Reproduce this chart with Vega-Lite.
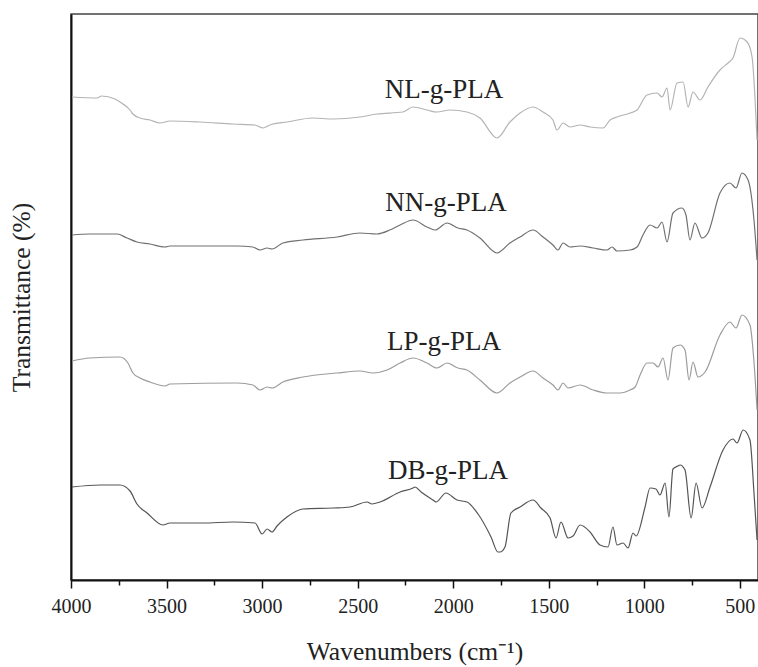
{
  "$schema": "https://vega.github.io/schema/vega-lite/v6.json",
  "width": 687,
  "height": 566,
  "autosize": {"type": "none"},
  "padding": {"left": 71, "top": 14, "right": 0, "bottom": 87},
  "background": "white",
  "config": {
    "view": {"stroke": "#444", "strokeWidth": 1.5},
    "font": "Liberation Serif"
  },
  "datasets": {
    "spectra": [
      {"s": "NL-g-PLA", "wn": 3995, "t": 483}, {"s": "NL-g-PLA", "wn": 3864, "t": 482}, {"s": "NL-g-PLA", "wn": 3840, "t": 484}, {"s": "NL-g-PLA", "wn": 3770, "t": 481}, {"s": "NL-g-PLA", "wn": 3744, "t": 478}, {"s": "NL-g-PLA", "wn": 3691, "t": 470}, {"s": "NL-g-PLA", "wn": 3676, "t": 466}, {"s": "NL-g-PLA", "wn": 3639, "t": 462}, {"s": "NL-g-PLA", "wn": 3587, "t": 460}, {"s": "NL-g-PLA", "wn": 3534, "t": 457}, {"s": "NL-g-PLA", "wn": 3482, "t": 459}, {"s": "NL-g-PLA", "wn": 3325, "t": 458}, {"s": "NL-g-PLA", "wn": 3152, "t": 456}, {"s": "NL-g-PLA", "wn": 3037, "t": 455}, {"s": "NL-g-PLA", "wn": 2995, "t": 452}, {"s": "NL-g-PLA", "wn": 2959, "t": 455}, {"s": "NL-g-PLA", "wn": 2870, "t": 458}, {"s": "NL-g-PLA", "wn": 2734, "t": 462}, {"s": "NL-g-PLA", "wn": 2629, "t": 461}, {"s": "NL-g-PLA", "wn": 2488, "t": 463}, {"s": "NL-g-PLA", "wn": 2399, "t": 466}, {"s": "NL-g-PLA", "wn": 2263, "t": 468}, {"s": "NL-g-PLA", "wn": 2210, "t": 473}, {"s": "NL-g-PLA", "wn": 2137, "t": 470}, {"s": "NL-g-PLA", "wn": 2085, "t": 468}, {"s": "NL-g-PLA", "wn": 2017, "t": 470}, {"s": "NL-g-PLA", "wn": 1928, "t": 468}, {"s": "NL-g-PLA", "wn": 1860, "t": 462}, {"s": "NL-g-PLA", "wn": 1771, "t": 442}, {"s": "NL-g-PLA", "wn": 1703, "t": 458}, {"s": "NL-g-PLA", "wn": 1650, "t": 467}, {"s": "NL-g-PLA", "wn": 1582, "t": 473}, {"s": "NL-g-PLA", "wn": 1530, "t": 468}, {"s": "NL-g-PLA", "wn": 1478, "t": 460}, {"s": "NL-g-PLA", "wn": 1457, "t": 450}, {"s": "NL-g-PLA", "wn": 1425, "t": 457}, {"s": "NL-g-PLA", "wn": 1389, "t": 453}, {"s": "NL-g-PLA", "wn": 1336, "t": 455}, {"s": "NL-g-PLA", "wn": 1284, "t": 453}, {"s": "NL-g-PLA", "wn": 1216, "t": 452}, {"s": "NL-g-PLA", "wn": 1179, "t": 460}, {"s": "NL-g-PLA", "wn": 1143, "t": 463}, {"s": "NL-g-PLA", "wn": 1074, "t": 467}, {"s": "NL-g-PLA", "wn": 1038, "t": 470}, {"s": "NL-g-PLA", "wn": 986, "t": 485}, {"s": "NL-g-PLA", "wn": 933, "t": 487}, {"s": "NL-g-PLA", "wn": 907, "t": 483}, {"s": "NL-g-PLA", "wn": 881, "t": 492}, {"s": "NL-g-PLA", "wn": 865, "t": 470}, {"s": "NL-g-PLA", "wn": 829, "t": 497}, {"s": "NL-g-PLA", "wn": 797, "t": 498}, {"s": "NL-g-PLA", "wn": 771, "t": 473}, {"s": "NL-g-PLA", "wn": 745, "t": 488}, {"s": "NL-g-PLA", "wn": 708, "t": 480}, {"s": "NL-g-PLA", "wn": 667, "t": 493}, {"s": "NL-g-PLA", "wn": 604, "t": 510}, {"s": "NL-g-PLA", "wn": 562, "t": 517}, {"s": "NL-g-PLA", "wn": 536, "t": 522}, {"s": "NL-g-PLA", "wn": 499, "t": 542}, {"s": "NL-g-PLA", "wn": 462, "t": 538}, {"s": "NL-g-PLA", "wn": 436, "t": 523}, {"s": "NL-g-PLA", "wn": 421, "t": 483}, {"s": "NL-g-PLA", "wn": 410, "t": 440},

      {"s": "NN-g-PLA", "wn": 3995, "t": 345}, {"s": "NN-g-PLA", "wn": 3901, "t": 346}, {"s": "NN-g-PLA", "wn": 3759, "t": 346}, {"s": "NN-g-PLA", "wn": 3707, "t": 342}, {"s": "NN-g-PLA", "wn": 3655, "t": 338}, {"s": "NN-g-PLA", "wn": 3587, "t": 336}, {"s": "NN-g-PLA", "wn": 3508, "t": 333}, {"s": "NN-g-PLA", "wn": 3482, "t": 334}, {"s": "NN-g-PLA", "wn": 3131, "t": 334}, {"s": "NN-g-PLA", "wn": 3048, "t": 333}, {"s": "NN-g-PLA", "wn": 3011, "t": 330}, {"s": "NN-g-PLA", "wn": 2974, "t": 332}, {"s": "NN-g-PLA", "wn": 2948, "t": 331}, {"s": "NN-g-PLA", "wn": 2891, "t": 337}, {"s": "NN-g-PLA", "wn": 2786, "t": 340}, {"s": "NN-g-PLA", "wn": 2608, "t": 343}, {"s": "NN-g-PLA", "wn": 2488, "t": 347}, {"s": "NN-g-PLA", "wn": 2399, "t": 346}, {"s": "NN-g-PLA", "wn": 2331, "t": 350}, {"s": "NN-g-PLA", "wn": 2278, "t": 355}, {"s": "NN-g-PLA", "wn": 2210, "t": 360}, {"s": "NN-g-PLA", "wn": 2137, "t": 353}, {"s": "NN-g-PLA", "wn": 2095, "t": 350}, {"s": "NN-g-PLA", "wn": 2032, "t": 357}, {"s": "NN-g-PLA", "wn": 1975, "t": 352}, {"s": "NN-g-PLA", "wn": 1928, "t": 350}, {"s": "NN-g-PLA", "wn": 1860, "t": 342}, {"s": "NN-g-PLA", "wn": 1771, "t": 327}, {"s": "NN-g-PLA", "wn": 1703, "t": 337}, {"s": "NN-g-PLA", "wn": 1650, "t": 343}, {"s": "NN-g-PLA", "wn": 1582, "t": 350}, {"s": "NN-g-PLA", "wn": 1530, "t": 343}, {"s": "NN-g-PLA", "wn": 1478, "t": 335}, {"s": "NN-g-PLA", "wn": 1452, "t": 330}, {"s": "NN-g-PLA", "wn": 1425, "t": 337}, {"s": "NN-g-PLA", "wn": 1389, "t": 333}, {"s": "NN-g-PLA", "wn": 1336, "t": 334}, {"s": "NN-g-PLA", "wn": 1268, "t": 332}, {"s": "NN-g-PLA", "wn": 1195, "t": 330}, {"s": "NN-g-PLA", "wn": 1169, "t": 333}, {"s": "NN-g-PLA", "wn": 1143, "t": 329}, {"s": "NN-g-PLA", "wn": 1074, "t": 330}, {"s": "NN-g-PLA", "wn": 1038, "t": 333}, {"s": "NN-g-PLA", "wn": 1007, "t": 345}, {"s": "NN-g-PLA", "wn": 970, "t": 355}, {"s": "NN-g-PLA", "wn": 933, "t": 352}, {"s": "NN-g-PLA", "wn": 907, "t": 358}, {"s": "NN-g-PLA", "wn": 881, "t": 338}, {"s": "NN-g-PLA", "wn": 850, "t": 367}, {"s": "NN-g-PLA", "wn": 803, "t": 372}, {"s": "NN-g-PLA", "wn": 782, "t": 365}, {"s": "NN-g-PLA", "wn": 761, "t": 340}, {"s": "NN-g-PLA", "wn": 735, "t": 357}, {"s": "NN-g-PLA", "wn": 698, "t": 342}, {"s": "NN-g-PLA", "wn": 667, "t": 347}, {"s": "NN-g-PLA", "wn": 604, "t": 387}, {"s": "NN-g-PLA", "wn": 552, "t": 397}, {"s": "NN-g-PLA", "wn": 520, "t": 392}, {"s": "NN-g-PLA", "wn": 489, "t": 407}, {"s": "NN-g-PLA", "wn": 457, "t": 400}, {"s": "NN-g-PLA", "wn": 426, "t": 360}, {"s": "NN-g-PLA", "wn": 410, "t": 320},

      {"s": "LP-g-PLA", "wn": 3995, "t": 219}, {"s": "LP-g-PLA", "wn": 3901, "t": 222}, {"s": "LP-g-PLA", "wn": 3744, "t": 223}, {"s": "LP-g-PLA", "wn": 3702, "t": 217}, {"s": "LP-g-PLA", "wn": 3676, "t": 207}, {"s": "LP-g-PLA", "wn": 3639, "t": 202}, {"s": "LP-g-PLA", "wn": 3587, "t": 198}, {"s": "LP-g-PLA", "wn": 3508, "t": 194}, {"s": "LP-g-PLA", "wn": 3482, "t": 196}, {"s": "LP-g-PLA", "wn": 3131, "t": 197}, {"s": "LP-g-PLA", "wn": 3048, "t": 195}, {"s": "LP-g-PLA", "wn": 3011, "t": 190}, {"s": "LP-g-PLA", "wn": 2974, "t": 193}, {"s": "LP-g-PLA", "wn": 2948, "t": 192}, {"s": "LP-g-PLA", "wn": 2891, "t": 198}, {"s": "LP-g-PLA", "wn": 2786, "t": 203}, {"s": "LP-g-PLA", "wn": 2608, "t": 207}, {"s": "LP-g-PLA", "wn": 2488, "t": 209}, {"s": "LP-g-PLA", "wn": 2420, "t": 207}, {"s": "LP-g-PLA", "wn": 2346, "t": 210}, {"s": "LP-g-PLA", "wn": 2278, "t": 217}, {"s": "LP-g-PLA", "wn": 2210, "t": 222}, {"s": "LP-g-PLA", "wn": 2137, "t": 217}, {"s": "LP-g-PLA", "wn": 2085, "t": 212}, {"s": "LP-g-PLA", "wn": 2032, "t": 217}, {"s": "LP-g-PLA", "wn": 1975, "t": 212}, {"s": "LP-g-PLA", "wn": 1928, "t": 210}, {"s": "LP-g-PLA", "wn": 1860, "t": 200}, {"s": "LP-g-PLA", "wn": 1771, "t": 187}, {"s": "LP-g-PLA", "wn": 1703, "t": 197}, {"s": "LP-g-PLA", "wn": 1650, "t": 203}, {"s": "LP-g-PLA", "wn": 1582, "t": 209}, {"s": "LP-g-PLA", "wn": 1530, "t": 202}, {"s": "LP-g-PLA", "wn": 1478, "t": 195}, {"s": "LP-g-PLA", "wn": 1452, "t": 190}, {"s": "LP-g-PLA", "wn": 1425, "t": 197}, {"s": "LP-g-PLA", "wn": 1399, "t": 192}, {"s": "LP-g-PLA", "wn": 1336, "t": 195}, {"s": "LP-g-PLA", "wn": 1268, "t": 190}, {"s": "LP-g-PLA", "wn": 1195, "t": 187}, {"s": "LP-g-PLA", "wn": 1127, "t": 187}, {"s": "LP-g-PLA", "wn": 1074, "t": 190}, {"s": "LP-g-PLA", "wn": 1048, "t": 193}, {"s": "LP-g-PLA", "wn": 1022, "t": 205}, {"s": "LP-g-PLA", "wn": 986, "t": 217}, {"s": "LP-g-PLA", "wn": 954, "t": 217}, {"s": "LP-g-PLA", "wn": 928, "t": 213}, {"s": "LP-g-PLA", "wn": 902, "t": 222}, {"s": "LP-g-PLA", "wn": 876, "t": 200}, {"s": "LP-g-PLA", "wn": 850, "t": 232}, {"s": "LP-g-PLA", "wn": 813, "t": 235}, {"s": "LP-g-PLA", "wn": 787, "t": 230}, {"s": "LP-g-PLA", "wn": 766, "t": 200}, {"s": "LP-g-PLA", "wn": 745, "t": 218}, {"s": "LP-g-PLA", "wn": 719, "t": 203}, {"s": "LP-g-PLA", "wn": 682, "t": 208}, {"s": "LP-g-PLA", "wn": 604, "t": 245}, {"s": "LP-g-PLA", "wn": 552, "t": 258}, {"s": "LP-g-PLA", "wn": 520, "t": 252}, {"s": "LP-g-PLA", "wn": 489, "t": 265}, {"s": "LP-g-PLA", "wn": 447, "t": 255}, {"s": "LP-g-PLA", "wn": 426, "t": 218}, {"s": "LP-g-PLA", "wn": 410, "t": 170},

      {"s": "DB-g-PLA", "wn": 3995, "t": 93}, {"s": "DB-g-PLA", "wn": 3848, "t": 95}, {"s": "DB-g-PLA", "wn": 3744, "t": 95}, {"s": "DB-g-PLA", "wn": 3691, "t": 89}, {"s": "DB-g-PLA", "wn": 3655, "t": 76}, {"s": "DB-g-PLA", "wn": 3602, "t": 67}, {"s": "DB-g-PLA", "wn": 3519, "t": 55}, {"s": "DB-g-PLA", "wn": 3482, "t": 57}, {"s": "DB-g-PLA", "wn": 3309, "t": 57}, {"s": "DB-g-PLA", "wn": 3152, "t": 58}, {"s": "DB-g-PLA", "wn": 3037, "t": 57}, {"s": "DB-g-PLA", "wn": 3000, "t": 46}, {"s": "DB-g-PLA", "wn": 2974, "t": 51}, {"s": "DB-g-PLA", "wn": 2948, "t": 48}, {"s": "DB-g-PLA", "wn": 2922, "t": 54}, {"s": "DB-g-PLA", "wn": 2870, "t": 63}, {"s": "DB-g-PLA", "wn": 2786, "t": 71}, {"s": "DB-g-PLA", "wn": 2629, "t": 72}, {"s": "DB-g-PLA", "wn": 2540, "t": 73}, {"s": "DB-g-PLA", "wn": 2451, "t": 78}, {"s": "DB-g-PLA", "wn": 2425, "t": 76}, {"s": "DB-g-PLA", "wn": 2383, "t": 78}, {"s": "DB-g-PLA", "wn": 2278, "t": 88}, {"s": "DB-g-PLA", "wn": 2210, "t": 92}, {"s": "DB-g-PLA", "wn": 2200, "t": 93}, {"s": "DB-g-PLA", "wn": 2168, "t": 88}, {"s": "DB-g-PLA", "wn": 2106, "t": 80}, {"s": "DB-g-PLA", "wn": 2090, "t": 78}, {"s": "DB-g-PLA", "wn": 2038, "t": 87}, {"s": "DB-g-PLA", "wn": 1980, "t": 80}, {"s": "DB-g-PLA", "wn": 1928, "t": 78}, {"s": "DB-g-PLA", "wn": 1870, "t": 66}, {"s": "DB-g-PLA", "wn": 1802, "t": 43}, {"s": "DB-g-PLA", "wn": 1766, "t": 28}, {"s": "DB-g-PLA", "wn": 1755, "t": 28}, {"s": "DB-g-PLA", "wn": 1729, "t": 33}, {"s": "DB-g-PLA", "wn": 1698, "t": 67}, {"s": "DB-g-PLA", "wn": 1650, "t": 73}, {"s": "DB-g-PLA", "wn": 1582, "t": 80}, {"s": "DB-g-PLA", "wn": 1541, "t": 72}, {"s": "DB-g-PLA", "wn": 1493, "t": 62}, {"s": "DB-g-PLA", "wn": 1462, "t": 42}, {"s": "DB-g-PLA", "wn": 1436, "t": 58}, {"s": "DB-g-PLA", "wn": 1399, "t": 42}, {"s": "DB-g-PLA", "wn": 1373, "t": 44}, {"s": "DB-g-PLA", "wn": 1336, "t": 55}, {"s": "DB-g-PLA", "wn": 1284, "t": 48}, {"s": "DB-g-PLA", "wn": 1232, "t": 35}, {"s": "DB-g-PLA", "wn": 1190, "t": 33}, {"s": "DB-g-PLA", "wn": 1164, "t": 53}, {"s": "DB-g-PLA", "wn": 1143, "t": 35}, {"s": "DB-g-PLA", "wn": 1111, "t": 37}, {"s": "DB-g-PLA", "wn": 1085, "t": 32}, {"s": "DB-g-PLA", "wn": 1059, "t": 47}, {"s": "DB-g-PLA", "wn": 1043, "t": 44}, {"s": "DB-g-PLA", "wn": 996, "t": 73}, {"s": "DB-g-PLA", "wn": 970, "t": 92}, {"s": "DB-g-PLA", "wn": 939, "t": 91}, {"s": "DB-g-PLA", "wn": 918, "t": 85}, {"s": "DB-g-PLA", "wn": 891, "t": 97}, {"s": "DB-g-PLA", "wn": 871, "t": 63}, {"s": "DB-g-PLA", "wn": 850, "t": 111}, {"s": "DB-g-PLA", "wn": 824, "t": 114}, {"s": "DB-g-PLA", "wn": 813, "t": 115}, {"s": "DB-g-PLA", "wn": 787, "t": 110}, {"s": "DB-g-PLA", "wn": 755, "t": 62}, {"s": "DB-g-PLA", "wn": 729, "t": 97}, {"s": "DB-g-PLA", "wn": 698, "t": 72}, {"s": "DB-g-PLA", "wn": 656, "t": 93}, {"s": "DB-g-PLA", "wn": 588, "t": 130}, {"s": "DB-g-PLA", "wn": 536, "t": 141}, {"s": "DB-g-PLA", "wn": 515, "t": 137}, {"s": "DB-g-PLA", "wn": 483, "t": 150}, {"s": "DB-g-PLA", "wn": 447, "t": 140}, {"s": "DB-g-PLA", "wn": 426, "t": 87}, {"s": "DB-g-PLA", "wn": 410, "t": 40}
    ],
    "labels": [
      {"s": "NL-g-PLA", "wn": 2048, "t": 490},
      {"s": "NN-g-PLA", "wn": 2038, "t": 377},
      {"s": "LP-g-PLA", "wn": 2048, "t": 238},
      {"s": "DB-g-PLA", "wn": 2027, "t": 109}
    ]
  },
  "layer": [
    {
      "data": {"name": "spectra"},
      "mark": {"type": "line", "strokeWidth": 1.2, "clip": true, "interpolate": "monotone"},
      "encoding": {
        "x": {
          "field": "wn", "type": "quantitative",
          "scale": {"domain": [4000, 405], "nice": false, "zero": false},
          "axis": {
            "title": "Wavenumbers (cm⁻¹)",
            "values": [4000, 3750, 3500, 3250, 3000, 2750, 2500, 2250, 2000, 1750, 1500, 1250, 1000, 750, 500],
            "format": "d",
            "labelExpr": "datum.value % 500 === 0 ? datum.label : ''",
            "grid": false,
            "domainColor": "#111", "domainWidth": 2,
            "tickColor": "#111", "tickWidth": 1.5,
            "tickSize": {"condition": {"test": "datum.value % 500 === 0", "value": 8}, "value": 5},
            "labelFont": "Liberation Serif", "labelFontSize": 20, "labelColor": "#222",
            "labelPadding": 8, "labelFlush": false, "labelOverlap": false,
            "titleFont": "Liberation Serif", "titleFontSize": 25.5, "titleFontWeight": "normal", "titleColor": "#222",
            "titlePadding": 23
          }
        },
        "y": {
          "field": "t", "type": "quantitative",
          "scale": {"domain": [0, 566], "nice": false, "zero": false},
          "axis": {
            "title": "Transmittance (%)",
            "labels": false, "ticks": false, "grid": false,
            "domainColor": "#111", "domainWidth": 2,
            "titleFont": "Liberation Serif", "titleFontSize": 25.5, "titleFontWeight": "normal", "titleColor": "#222",
            "titlePadding": 37
          }
        },
        "color": {
          "field": "s", "type": "nominal",
          "scale": {"domain": ["NL-g-PLA", "NN-g-PLA", "LP-g-PLA", "DB-g-PLA"], "range": ["#b4b4b4", "#707070", "#9c9c9c", "#555555"]},
          "legend": null
        }
      }
    },
    {
      "data": {"name": "labels"},
      "mark": {"type": "text", "font": "Liberation Serif", "fontSize": 27, "color": "#222", "align": "center", "baseline": "middle"},
      "encoding": {
        "x": {"field": "wn", "type": "quantitative"},
        "y": {"field": "t", "type": "quantitative"},
        "text": {"field": "s"}
      }
    }
  ]
}
